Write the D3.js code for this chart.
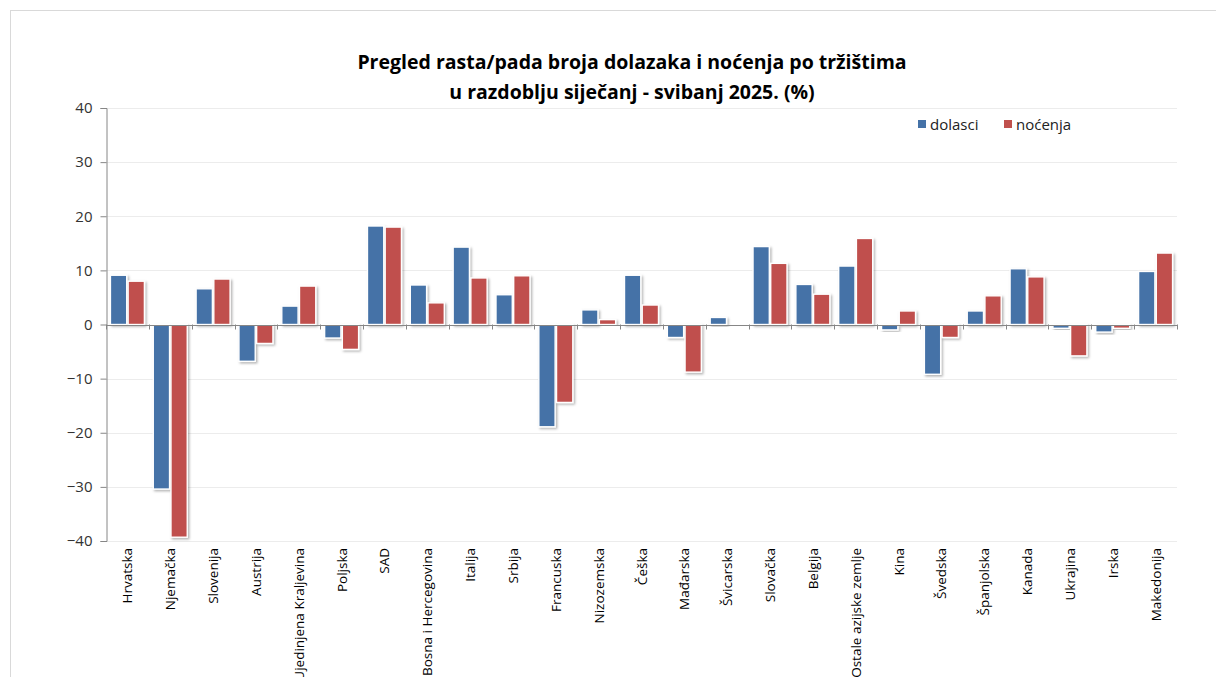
<!DOCTYPE html>
<html>
<head>
<meta charset="utf-8">
<script src="https://cdn.jsdelivr.net/npm/d3@7"></script>
<style>
  body { margin: 0; background: #fff; }
  svg { font-family: 'Open Sans', sans-serif; }
</style>
</head>
<body>
<svg id="chart" width="1216" height="677"></svg>
<script>
const categories = ['Hrvatska', 'Njemačka', 'Slovenija', 'Austrija', 'Ujedinjena Kraljevina',
  'Poljska', 'SAD', 'Bosna i Hercegovina', 'Italija', 'Srbija', 'Francuska', 'Nizozemska',
  'Češka', 'Mađarska', 'Švicarska', 'Slovačka', 'Belgija', 'Ostale azijske zemlje', 'Kina',
  'Švedska', 'Španjolska', 'Kanada', 'Ukrajina', 'Irska', 'Makedonija'];

const dolasci = [9.1, -30.4, 6.6, -6.8, 3.4, -2.5, 18.2, 7.3, 14.3, 5.5, -18.9, 2.7,
  9.1, -2.4, 1.3, 14.4, 7.4, 10.8, -1.0, -9.2, 2.5, 10.3, -0.7, -1.4, 9.8];

const nocenja = [8.0, -39.3, 8.4, -3.5, 7.1, -4.6, 18.0, 4.0, 8.6, 9.0, -14.4, 0.9,
  3.6, -8.8, 0.0, 11.3, 5.6, 15.9, 2.5, -2.4, 5.3, 8.8, -5.8, -0.7, 13.2];

const seriesNames = ['dolasci', 'noćenja'];
const seriesColors = ['#4572a7', '#c0504d'];
const yTicks = [-40, -30, -20, -10, 0, 10, 20, 30, 40];

const svg = d3.select('#chart'),
  margin = { top: 108, right: 39, bottom: 136, left: 106 },
  width = +svg.attr('width'),
  height = +svg.attr('height');

const rows = categories.map((c, i) => ({ name: c, values: [dolasci[i], nocenja[i]] }));

// outer frame
svg.append('rect')
  .attr('x', 10.5).attr('y', 10.5)
  .attr('width', 1400).attr('height', 900)
  .attr('fill', 'none').attr('stroke', '#d9d9d9');

const defs = svg.append('defs');
const shadow = defs.append('filter').attr('id', 'shadow')
  .attr('x', '-20%').attr('y', '-20%').attr('width', '150%').attr('height', '150%');
shadow.append('feDropShadow')
  .attr('dx', 1.5).attr('dy', 1.5).attr('stdDeviation', 1.2)
  .attr('flood-color', '#000').attr('flood-opacity', 0.3);

const x = d3.scaleBand()
  .domain(categories)
  .range([margin.left, width - margin.right])
  .padding(0);

const xInner = d3.scaleBand()
  .domain(d3.range(2))
  .range([0, x.bandwidth()])
  .paddingInner(0.08)
  .paddingOuter(0.25);

const y = d3.scaleLinear()
  .domain([-40, 40])
  .range([height - margin.bottom, margin.top]);

// gridlines
svg.append('g')
  .selectAll('line')
  .data(yTicks)
  .join('line')
  .attr('x1', margin.left)
  .attr('x2', width - margin.right)
  .attr('y1', d => Math.round(y(d)) + 0.5)
  .attr('y2', d => Math.round(y(d)) + 0.5)
  .attr('stroke', '#ececec');

// y axis
svg.append('g')
  .attr('transform', `translate(${margin.left + 0.5},0)`)
  .call(d3.axisLeft(y).tickValues(yTicks).tickSize(6).tickPadding(8))
  .call(g => g.selectAll('.domain').attr('stroke', '#868686'))
  .call(g => g.selectAll('.tick line').attr('stroke', '#868686'))
  .call(g => g.selectAll('.tick text')
    .attr('font-size', 15)
    .attr('font-family', "'Open Sans', sans-serif")
    .attr('fill', '#333'));

// bars
svg.append('g')
  .selectAll('g')
  .data(rows)
  .join('g')
  .attr('transform', d => `translate(${x(d.name)},0)`)
  .selectAll('rect')
  .data(d => d.values)
  .join('rect')
  .attr('x', (d, i) => xInner(i))
  .attr('y', d => y(Math.max(0, d)))
  .attr('width', xInner.bandwidth())
  .attr('height', d => Math.abs(y(d) - y(0)))
  .attr('fill', (d, i) => seriesColors[i])
  .attr('stroke', '#fff')
  .attr('stroke-width', 1.4)
  .attr('filter', 'url(#shadow)');

// x axis at zero with ticks at category boundaries
const xAxisG = svg.append('g');
xAxisG.append('line')
  .attr('x1', margin.left)
  .attr('x2', width - margin.right)
  .attr('y1', Math.round(y(0)) + 0.5)
  .attr('y2', Math.round(y(0)) + 0.5)
  .attr('stroke', '#868686');
xAxisG.selectAll('line.tk')
  .data(categories.map(c => x(c)).concat([width - margin.right]))
  .join('line')
  .attr('class', 'tk')
  .attr('x1', d => Math.round(d) + 0.5)
  .attr('x2', d => Math.round(d) + 0.5)
  .attr('y1', y(0))
  .attr('y2', y(0) + 5)
  .attr('stroke', '#868686');

// category labels (rotated)
svg.append('g')
  .selectAll('text')
  .data(categories)
  .join('text')
  .attr('transform', d => `translate(${x(d) + x.bandwidth() / 2 + 5},${height - margin.bottom + 7}) rotate(-90)`)
  .attr('text-anchor', 'end')
  .attr('font-size', 13.5)
  .attr('fill', '#000')
  .text(d => d);

// title
const title = svg.append('text')
  .attr('x', 632)
  .attr('text-anchor', 'middle')
  .attr('font-size', 19.5)
  .attr('font-weight', 'bold')
  .attr('fill', '#000');
title.append('tspan').attr('x', 632).attr('y', 69).text('Pregled rasta/pada broja dolazaka i noćenja po tržištima');
title.append('tspan').attr('x', 632).attr('y', 99).text('u razdoblju siječanj - svibanj 2025. (%)');

// legend
const legend = svg.append('g')
  .attr('transform', 'translate(918,125)')
  .selectAll('g')
  .data(seriesNames)
  .join('g')
  .attr('transform', (d, i) => `translate(${i * 86},0)`);

legend.append('rect')
  .attr('x', 0).attr('y', -5)
  .attr('width', 8).attr('height', 8)
  .attr('fill', (d, i) => seriesColors[i]);

legend.append('text')
  .attr('x', 12)
  .attr('y', 0)
  .attr('dy', '0.35em')
  .attr('font-size', 15)
  .attr('fill', '#222')
  .text(d => d);
</script>
</body>
</html>
